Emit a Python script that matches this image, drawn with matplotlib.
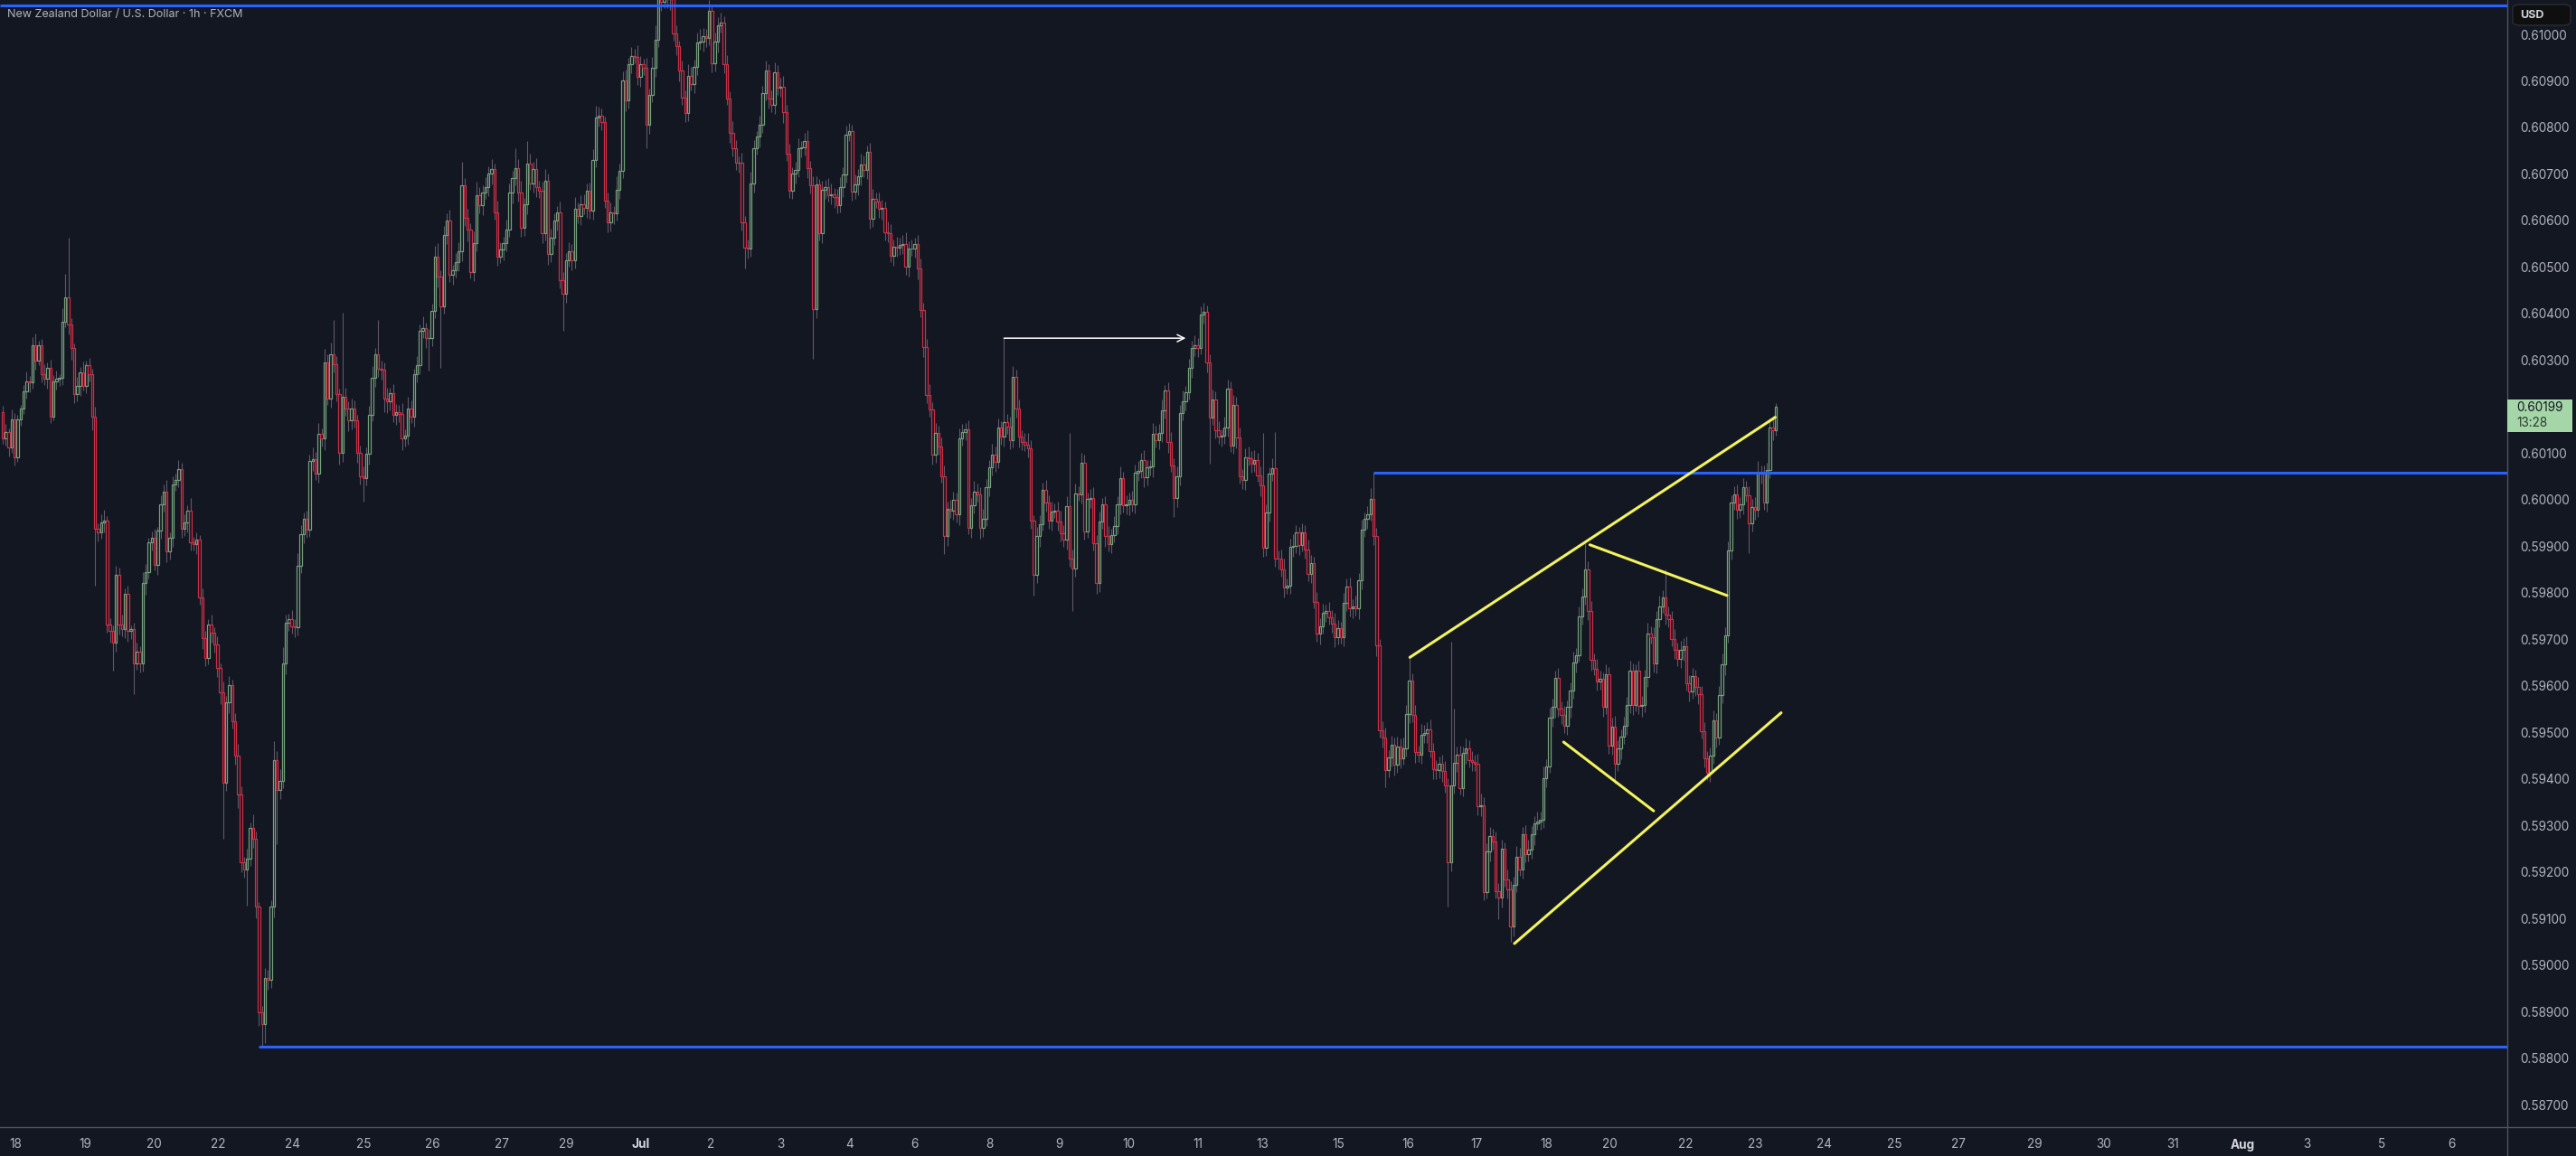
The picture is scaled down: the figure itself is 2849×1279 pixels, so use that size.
import numpy as np
import matplotlib.pyplot as plt
from matplotlib.patches import Rectangle, FancyBboxPatch
from matplotlib.lines import Line2D

plt.rcParams['font.family'] = ['Inter', 'DejaVu Sans']

# NZD/USD 1h closes, in 1e-5 (pipettes)
close = [
    60131, 60145, 60113, 60172, 60091, 60172, 60196, 60233, 60255, 60252,
    60332, 60299, 60332, 60270, 60259, 60284, 60179, 60255, 60259, 60262,
    60382, 60435, 60376, 60325, 60226, 60245, 60274, 60245, 60289, 60270,
    60179, 59937, 59929, 59951, 59954, 59731, 59717, 59692, 59838, 59731,
    59721, 59798, 59717, 59721, 59648, 59673, 59648, 59820, 59845, 59908,
    59918, 59860, 59933, 59989, 60018, 59889, 59918, 60033, 60043, 60065,
    59937, 59951, 59977, 59908, 59904, 59914, 59790, 59703, 59660, 59731,
    59714, 59689, 59638, 59586, 59392, 59564, 59601, 59524, 59450, 59367,
    59221, 59206, 59228, 59294, 59272, 59126, 58899, 58873, 58972, 58968,
    59126, 59440, 59377, 59396, 59648, 59736, 59743, 59728, 59725, 59857,
    59926, 59958, 59936, 60084, 60087, 60055, 60142, 60131, 60294, 60218,
    60313, 60291, 60226, 60101, 60221, 60196, 60170, 60196, 60170, 60101,
    60050, 60046, 60098, 60182, 60262, 60313, 60281, 60280, 60218, 60211,
    60229, 60182, 60189, 60185, 60131, 60138, 60196, 60179, 60270, 60289,
    60362, 60369, 60347, 60347, 60405, 60523, 60479, 60416, 60569, 60599,
    60484, 60493, 60511, 60533, 60676, 60606, 60581, 60489, 60552, 60654,
    60632, 60661, 60672, 60701, 60711, 60618, 60523, 60537, 60552, 60581,
    60661, 60691, 60713, 60661, 60584, 60635, 60723, 60679, 60711, 60672,
    60664, 60572, 60686, 60528, 60562, 60599, 60618, 60471, 60442, 60515,
    60533, 60515, 60625, 60610, 60635, 60628, 60664, 60621, 60730, 60822,
    60825, 60811, 60642,
    60595, 60617, 60615, 60665, 60706, 60900, 60858, 60936, 60953, 60952,
    60909, 60936, 60929, 60806, 60869, 60929, 60989, 61087, 61070, 61095,
    61075, 61090, 61002, 60974, 60922, 60864, 60831, 60911, 60894, 60931,
    60983, 60985, 60996, 60992, 61050, 60938, 60985, 61020, 61025, 60936,
    60862, 60788, 60755, 60724, 60724, 60595, 60541, 60539, 60680, 60755,
    60780, 60806, 60873, 60922, 60862, 60849, 60918, 60885, 60887, 60833,
    60744, 60664, 60701, 60708, 60755, 60757, 60771, 60713, 60675, 60409,
    60677, 60573, 60665, 60672, 60655, 60656, 60650, 60632, 60672, 60699,
    60784, 60793, 60662, 60677, 60695, 60720, 60708, 60748, 60604, 60646,
    60641, 60625, 60628, 60574, 60573, 60525, 60543, 60541, 60548, 60550,
    60501, 60539, 60540, 60550, 60497, 60408, 60327, 60225, 60193, 60097,
    60144, 60115, 60051, 59921, 59980, 59977, 60000, 59968, 60131, 60146,
    60151, 59939, 59988, 60017, 60012, 59939, 59959, 60026, 60070, 60097,
    60082, 60155, 60136, 60166, 60157, 60128, 60264, 60195, 60136, 60124,
    60119, 60111, 59954, 59839, 59921, 59948, 60021, 59993, 59954, 59975,
    59977, 59953, 59928, 59914, 59986, 59874, 59852, 60014, 60012, 60079,
    59932, 60002, 60003, 59907, 59821, 59953, 59990, 59921, 59905, 59923,
    59944, 59990, 60046, 59988, 59990, 59999, 59990, 60057, 60061, 60086,
    60048, 60069, 60071, 60142, 60128, 60144, 60191, 60234, 60124, 60073,
    60003, 60051, 60186, 60211, 60231, 60284, 60325, 60332,
    60326, 60397, 60404, 60295, 60176, 60216, 60150, 60136, 60138, 60155,
    60239, 60116, 60204, 60133, 60051, 60042, 60091, 60088, 60077, 60086,
    60053, 60030, 59896, 59973, 60056, 60067, 59874, 59873, 59851, 59811,
    59815, 59898, 59901, 59929, 59903, 59929, 59893, 59841, 59863, 59780,
    59712, 59728, 59757, 59760, 59747, 59733, 59705, 59724, 59705, 59778,
    59813, 59766, 59771, 59766, 59827, 59936, 59959, 59968, 60001, 59921,
    59686, 59504, 59488, 59418, 59446, 59474, 59430, 59469, 59444, 59465,
    59540, 59611, 59538, 59457, 59452, 59495, 59498, 59507, 59460, 59420,
    59418, 59432, 59416, 59385, 59220, 59385, 59435, 59451, 59380, 59455,
    59465, 59441, 59437, 59432, 59341, 59344, 59156, 59244, 59277, 59265,
    59159, 59144, 59250, 59184, 59162, 59083, 59173, 59232, 59206, 59281,
    59239, 59248, 59281, 59305, 59309, 59311, 59402, 59427, 59531, 59554,
    59617, 59550, 59537, 59514, 59554, 59590, 59650, 59665, 59749, 59791,
    59851, 59761, 59655, 59637, 59609, 59615, 59554, 59625, 59472, 59512,
    59432, 59465, 59491, 59514, 59559, 59632, 59559, 59632, 59557, 59559,
    59618, 59712, 59705, 59648, 59743, 59771, 59790, 59752, 59743, 59700,
    59677, 59658, 59677, 59684, 59606, 59587, 59620, 59597, 59582, 59502,
    59444, 59413, 59449, 59526, 59488, 59581, 59646, 59708,
    59891, 59994, 60011, 59978, 59990, 60027, 60009, 59949, 59984, 59978,
    60058, 60055, 59994, 60064, 60155, 60149, 60199,
]
first_open = 60189

# wick lengths above / below the body, 1e-5
up_wick = [
    12, 18, 9, 22, 15, 10, 8, 14, 20, 11, 17, 25, 9, 13, 21, 10, 16, 12, 19, 8,
    30, 50, 127, 14, 10, 18, 12, 22, 9, 15, 11, 20, 13, 17, 25, 10, 14, 12, 19, 16,
    22, 11, 18, 9, 14, 20, 12, 25, 16, 10, 13, 19, 8, 21, 15, 24, 11, 17, 12, 20,
    14, 18, 10, 26, 12, 16, 9, 20, 15, 13, 22, 11, 17, 10, 24, 14, 19, 12, 18, 25,
    16, 11, 21, 13, 30, 15, 10, 12, 22, 18, 14, 40, 20, 25, 35, 17, 12, 19, 15, 28,
    20, 14, 18, 12, 25, 16, 22, 11, 30, 19, 24, 74, 17, 13, 180, 20, 15, 22, 18, 12,
    16, 21, 14, 19, 25, 12, 74, 18, 15, 23, 11, 20, 17, 14, 22, 13, 26, 18, 12, 20,
    15, 24, 11, 19, 16, 22, 28, 14, 20, 17, 25, 12, 18, 21, 50, 15, 19, 13, 24, 30,
    18, 14, 22, 16, 20, 12, 25, 17, 13, 21, 19, 15, 42, 18, 24, 14, 48, 20, 16, 22,
    13, 19, 25, 15, 21, 17, 12, 23, 18, 14, 20, 16, 26, 13, 19, 22, 15, 18, 24, 25,
    20, 16, 12, 18, 22, 14, 30, 17, 21, 25, 13, 19, 16, 24, 18, 12, 20, 15, 22, 30,
    25, 20, 28, 18, 15, 22, 17, 13, 21, 16, 24, 19, 14, 20, 26, 18, 15, 23, 12, 19,
    17, 22, 14, 20, 16, 25, 18, 13, 21, 15, 19, 24, 17, 12, 20, 16, 22, 14, 18, 21,
    15, 19, 23, 16, 20, 13, 18, 22, 14, 17, 24, 15, 20, 18, 12, 21, 16, 19, 23, 14,
    18, 22, 15, 20, 17, 13, 21, 16, 24, 19, 14, 18, 22, 15, 20, 17, 12, 23, 19, 16,
    21, 14, 18, 25, 16, 20, 13, 19, 22, 15, 18, 24, 17, 21, 14, 19, 23, 16, 20, 18,
    15, 22, 17, 13, 20, 16, 24, 18, 14, 21, 19, 15, 23, 17, 20, 14, 181, 18, 22, 23,
    16, 20, 14, 19, 25, 17, 13, 21, 18, 15, 22, 16, 20, 14, 19, 23, 17, 21, 158, 18,
    20, 15, 22, 17, 14, 19, 24, 16, 21, 13, 18, 22, 15, 20, 17, 25, 14, 19, 16, 21,
    18, 23, 15, 20, 17, 14, 22, 16, 19, 24, 13, 18, 21, 15, 20, 17, 23, 14, 19, 16,
    22, 15, 18, 20, 14, 17, 21, 16, 19, 13, 24, 18, 15, 20, 17, 22, 14, 19, 23, 16,
    20, 15, 18, 113, 17, 14, 21, 78, 16, 19, 22, 15, 18, 24, 17, 13, 20, 16, 21, 18,
    15, 22, 17, 19, 14, 20, 16, 23, 18, 13, 21, 17, 19, 15, 22, 16, 20, 14, 18, 24,
    57, 18, 15, 20, 22, 16, 19, 14, 21, 17, 24, 18, 51, 16, 20, 15, 22, 18, 14, 21,
    17, 20, 15, 19, 23, 16, 310, 115, 18, 20, 14, 22, 17, 19, 15, 21, 24, 16, 18, 20,
    15, 22, 17, 19, 14, 21, 18, 16, 23, 20, 15, 19, 22, 17, 14, 20, 18, 25, 16, 21,
    19, 15, 22, 17, 20, 14, 18, 23, 16, 21, 19, 56, 17, 22, 15, 20, 18, 14, 21, 16,
    19, 23, 17, 15, 20, 18, 22, 16, 14, 21, 19, 17, 24, 15, 20, 18, 22, 16, 61, 19,
    17, 21, 15, 20, 18, 23, 16, 19, 14, 22, 17, 20, 15, 18, 21, 16, 19, 23, 17, 20,
    15, 18, 22, 16, 20, 14, 19, 17, 21, 25, 15, 18, 16, 20, 25, 8,
]
down_wick = [
    10, 15, 20, 12, 18, 9, 14, 11, 16, 22, 13, 19, 10, 17, 12, 21, 15, 9, 18, 14,
    16, 12, 20, 25, 18, 14, 22, 11, 17, 15, 30, 121, 19, 13, 21, 16, 24, 59, 18, 20,
    14, 19, 22, 16, 66, 13, 20, 17, 24, 15, 18, 12, 21, 16, 14, 23, 18, 20, 13, 17,
    19, 15, 22, 17, 14, 20, 16, 24, 18, 13, 21, 17, 19, 25, 120, 18, 22, 16, 20, 30,
    22, 18, 78, 16, 20, 25, 30, 47, 40, 22, 18, 24, 117, 20, 16, 23, 19, 15, 21, 17,
    14, 20, 18, 16, 22, 13, 19, 17, 24, 15, 21, 18, 14, 25, 20, 16, 22, 19, 15, 21,
    18, 50, 16, 22, 14, 20, 17, 23, 30, 25, 19, 15, 21, 18, 24, 16, 20, 14, 22, 17,
    19, 15, 21, 70, 18, 14, 22, 132, 17, 20, 16, 23, 15, 19, 21, 17, 25, 14, 20, 18,
    16, 21, 15, 19, 23, 17, 20, 14, 22, 18, 16, 24, 15, 20, 19, 17, 22, 14, 18, 21,
    16, 20, 15, 23, 18, 14, 21, 17, 80, 19, 15, 22, 18, 16, 20, 14, 23, 17, 19, 15,
    21, 17, 14, 20, 18, 22, 16, 19, 15, 23, 17, 20, 14, 18, 22, 16, 51, 19, 15, 21,
    17, 20, 14, 18, 22, 16, 19, 23, 15, 20, 17, 14, 21, 18, 16, 22, 19, 15, 20, 17,
    23, 16, 19, 14, 21, 18, 15, 22, 17, 45, 20, 16, 19, 14, 22, 18, 15, 21, 17, 20,
    16, 19, 23, 15, 16, 18, 21, 14, 20, 17, 22, 16, 107, 19, 15, 21, 18, 14, 20, 23,
    17, 15, 21, 18, 14, 20, 16, 22, 19, 15, 18, 21, 17, 14, 20, 23, 16, 19, 15, 22,
    18, 14, 20, 17, 21, 15, 19, 23, 16, 20, 18, 14, 22, 17, 19, 15, 38, 21, 16, 20,
    17, 22, 15, 19, 14, 21, 18, 16, 23, 20, 15, 19, 17, 22, 14, 18, 21, 16, 20, 15,
    19, 23, 17, 14, 20, 16, 45, 18, 22, 15, 19, 17, 21, 14, 20, 18, 16, 22, 19, 91,
    17, 15, 21, 18, 14, 20, 16, 23, 19, 15, 22, 17, 20, 14, 18, 21, 16, 19, 23, 15,
    20, 17, 14, 21, 18, 16, 22, 15, 19, 20, 17, 23, 14, 40, 18, 21, 16, 19, 15, 22,
    17, 20, 14, 18, 21, 99, 16, 19, 15, 22, 17, 20, 14, 18, 23, 16, 19, 21, 15, 20,
    17, 14, 22, 18, 16, 20, 15, 19, 23, 17, 21, 14, 18, 20, 16, 22, 15, 19, 17, 21,
    14, 18, 23, 16, 20, 15, 19, 22, 17, 14, 21, 18, 16, 20, 15, 23, 19, 17, 21, 14,
    18, 22, 16, 20, 36, 15, 19, 23, 17, 21, 14, 18, 20, 16, 22, 15, 19, 17, 21, 14,
    20, 18, 16, 22, 15, 94, 19, 17, 21, 14, 18, 23, 16, 20, 15, 19, 22, 17, 14, 21,
    18, 16, 46, 20, 15, 19, 33, 22, 17, 14, 21, 18, 16, 20, 23, 15, 19, 17, 21, 14,
    18, 22, 16, 20, 15, 19, 23, 17, 21, 14, 18, 16, 20, 22, 15, 19, 17, 21, 14, 18,
    20, 43, 16, 22, 15, 19, 17, 21, 14, 18, 23, 16, 20, 15, 19, 22, 17, 14, 21, 18,
    16, 20, 15, 19, 23, 17, 21, 14, 18, 22, 16, 20, 15, 19, 17, 21, 14, 18, 23, 16,
    20, 15, 19, 17, 21, 14, 64, 18, 22, 16, 20, 15, 19, 17, 21, 11,
]

# horizontal rays: level (1e-5) and the bar they start from (None = off-screen left)
ray_levels = [61062, 60058, 58825]
ray_start = [None, 460, 86]

# trend lines drawn on the chart: (bar, price) -> (bar, price)
trend_lines = [
    ((472.2, 59661), (594.8, 60177)),
    ((532.6, 59903), (578.6, 59794)),
    ((523.8, 59479), (554.0, 59331)),
    ((507.3, 59046), (596.8, 59542)),
]
arrow_from, arrow_to, arrow_level = 336, 397, 60347

day_labels = ['18', '19', '20', '22', '24', '25', '26', '27', '29', 'Jul', '2', '3',
              '4', '6', '8', '9', '10', '11', '13', '15', '16', '17', '18', '20',
              '22', '23', '24', '25', '27', '29', '30', '31', 'Aug', '3', '5', '6']
# label centres along the time scale, in screen px of the 2849 px wide chart
day_px = [17, 94, 170, 241, 324, 402, 478, 555, 626, 709, 786, 863,
          940, 1011, 1094, 1171, 1248, 1325, 1396, 1480, 1557, 1633, 1710, 1780,
          1864, 1941, 2018, 2095, 2166, 2250, 2327, 2403, 2480, 2551, 2634, 2711]

bg = '#131722'
up_c = '#74a07a'
dn_c = '#cf2e45'
wick_c = '#5f5869'
txt_c = '#b2b5be'
axis_c = '#50535e'

W, H = 2849, 1279
pane_w, pane_h = 2773, 1247

c = np.array(close) / 1e5
o = np.array([first_open] + close[:-1]) / 1e5
hi = np.maximum(o, c) + np.array(up_wick) / 1e5
lo = np.minimum(o, c) - np.array(down_wick) / 1e5
n = len(c)
x = np.arange(n)

# first bar sits 3 px from the left edge, last at 1964 px
dx = (1964 - 3) / (n - 1)
x0 = -3 / dx
x1 = x0 + pane_w / dx

fig = plt.figure(figsize=(W / 100, H / 100), dpi=100, facecolor=bg)
ax = fig.add_axes([0, (H - pane_h) / H, pane_w / W, pane_h / H])
ax.set_facecolor(bg)

up = c >= o
ax.vlines(x, lo, hi, color=wick_c, lw=0.8, zorder=2)
ax.bar(x, np.abs(c - o), bottom=np.minimum(o, c), width=0.74, color=bg,
       edgecolor=np.where(up, up_c, dn_c), linewidth=0.9, zorder=3)

for lvl, st in zip(ray_levels, ray_start):
    ax.hlines(lvl / 1e5, x0 if st is None else st, x1, color='#2962ff', lw=2.2, zorder=4)

for (xa, ya), (xb, yb) in trend_lines:
    ax.plot([xa, xb], [ya / 1e5, yb / 1e5], color='#f3f35e', lw=2.2,
            solid_capstyle='round', zorder=5)

ax.annotate('', xy=(arrow_to, arrow_level / 1e5), xytext=(arrow_from, arrow_level / 1e5),
            arrowprops=dict(arrowstyle='->', color='white', lw=1.1, mutation_scale=14,
                            shrinkA=0, shrinkB=0), zorder=5)

ax.set_xlim(x0, x1)
y_top = 0.61 + 38 / 51.48 * 0.001
y_bot = 0.61 - (pane_h - 38) / 51.48 * 0.001
ax.set_ylim(y_bot, y_top)

yt = [v / 1e5 for v in range(58700, 61001, 100) if v != 60200]
ax.yaxis.tick_right()
ax.set_yticks(yt)
ax.set_yticklabels([f'{v:.5f}' for v in yt])
ax.tick_params(axis='y', length=0, pad=10, labelcolor=txt_c, labelsize=9.8)

ax.set_xticks([(p - 3) / dx for p in day_px])
ax.set_xticklabels(day_labels)
ax.tick_params(axis='x', length=0, pad=9, labelcolor=txt_c, labelsize=9.8)
for lab in ax.get_xticklabels():
    if lab.get_text() in ('Jul', 'Aug'):
        lab.set_color('#d1d4dc')
        lab.set_fontweight('bold')

for s in ax.spines.values():
    s.set_visible(False)

# pane borders
fig.add_artist(Line2D([pane_w / W, pane_w / W], [0, 1], color=axis_c, lw=1))
fig.add_artist(Line2D([0, 1], [(H - pane_h) / H] * 2, color=axis_c, lw=1))

fig.text(8 / W, 1 - 16 / H, 'New Zealand Dollar / U.S. Dollar · 1h · FXCM',
         color=txt_c, fontsize=9, va='center', ha='left')

# currency badge
fig.add_artist(FancyBboxPatch((2779 / W, (H - 28) / H), 64 / W, 23 / H,
                              boxstyle='round,pad=0,rounding_size=0.003',
                              transform=fig.transFigure, facecolor='#0f0f10',
                              edgecolor='#2a2d35', lw=1, zorder=10))
fig.text(2787 / W, 1 - 16.5 / H, 'USD', color='#d1d4dc', fontsize=9,
         fontweight='bold', va='center', ha='left', zorder=11)

# last price badge
fig.canvas.draw()
y_last = ax.transData.transform((0, c[-1]))[1]
fig.add_artist(Rectangle((pane_w / W, (y_last - 28) / H), 72 / W, 36 / H,
                         transform=fig.transFigure, facecolor='#a5d6a7',
                         edgecolor='none', zorder=10))
fig.text(2783 / W, (y_last - 1) / H, f'{c[-1]:.5f}', color='#131722',
         fontsize=9.8, va='center', ha='left', zorder=11)
fig.text(2783 / W, (y_last - 18) / H, '13:28', color='#2b3a2d',
         fontsize=9.8, va='center', ha='left', zorder=11)

fig.savefig('out.png', dpi=100, facecolor=bg)
